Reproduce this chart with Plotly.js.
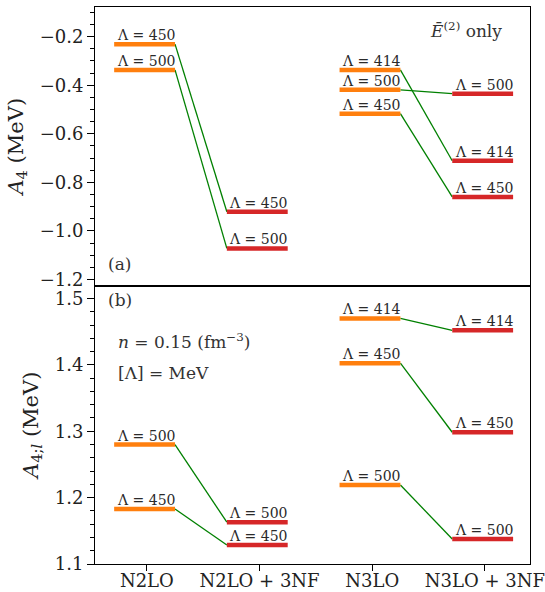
<!DOCTYPE html>
<html>
<head>
<meta charset="utf-8">
<script src="https://cdn.plot.ly/plotly-3.0.1.min.js"></script>
<style>html,body{margin:0;padding:0;background:#fff;}#chart{width:545px;height:592px;}</style>
</head>
<body>
<div id="chart"></div>
<script>
// ---- data ----
const categories = ['N2LO', 'N2LO + 3NF', 'N3LO', 'N3LO + 3NF'];
const cutoffsN2 = [450, 500];
const cutoffsN3 = [414, 500, 450];
// panel (a): A4 (MeV)
const A4_N2LO      = [-0.231, -0.337];
const A4_N2LO_3NF  = [-0.921, -1.072];
const A4_N3LO      = [-0.337, -0.419, -0.517];
const A4_N3LO_3NF  = [-0.711, -0.435, -0.860];
// panel (b): A4;l (MeV)
const A4l_N2LO     = [1.183, 1.280];
const A4l_N2LO_3NF = [1.1286, 1.163];
const A4l_N3LO     = [1.470, 1.219, 1.4025];
const A4l_N3LO_3NF = [1.452, 1.1377, 1.2985];

const L = 0.29, R = 0.25;
const ORANGE = '#ff7f0e', RED = '#d62728', GREEN = '#008000';
const FONT = '"DejaVu Serif", serif';

const traces = [];
const annotations = [];

function addPanel(xa, ya, groups) {
  groups.forEach(g => {
    const lx = [], ly = [];
    g.cutoffs.forEach((c, k) => {
      lx.push(g.ci + R, g.ci + 1 - L, null);
      ly.push(g.base[k], g.nf[k], null);
    });
    traces.push({type: 'scatter', mode: 'lines', x: lx, y: ly, xaxis: xa, yaxis: ya,
      line: {color: GREEN, width: 1.3}, hoverinfo: 'skip', showlegend: false});
    [[g.ci, g.base, ORANGE], [g.ci + 1, g.nf, RED]].forEach(([ci, vals, col]) => {
      const bx = [], by = [];
      vals.forEach((v, k) => {
        bx.push(ci - L, ci + R, null);
        by.push(v, v, null);
        annotations.push({xref: xa, yref: ya, x: ci - L + 0.005, y: v, xanchor: 'left', yanchor: 'bottom',
          yshift: -1, showarrow: false, text: 'Λ = ' + g.cutoffs[k],
          font: {family: FONT, size: 14, color: '#2a2a2a'}});
      });
      traces.push({type: 'scatter', mode: 'lines', x: bx, y: by, xaxis: xa, yaxis: ya,
        line: {color: col, width: 4.5}, hoverinfo: 'skip', showlegend: false});
    });
  });
}

addPanel('x', 'y', [
  {ci: 0, cutoffs: cutoffsN2, base: A4_N2LO, nf: A4_N2LO_3NF},
  {ci: 2, cutoffs: cutoffsN3, base: A4_N3LO, nf: A4_N3LO_3NF}
]);
addPanel('x2', 'y2', [
  {ci: 0, cutoffs: cutoffsN2, base: A4l_N2LO, nf: A4l_N2LO_3NF},
  {ci: 2, cutoffs: cutoffsN3, base: A4l_N3LO, nf: A4l_N3LO_3NF}
]);

const txt = (x, y, text, xanchor, size) => ({xref: 'paper', yref: 'paper', x, y, xanchor, yanchor: 'middle',
  showarrow: false, text, font: {family: FONT, size, color: '#333'}});
annotations.push(txt(0.026, 0.539, '(a)', 'left', 17));
annotations.push(txt(0.026, 0.474, '(b)', 'left', 17));
annotations.push(txt(0.048, 0.400, '<i>n</i> = 0.15 (fm<sup>−3</sup>)', 'left', 17));
annotations.push(txt(0.048, 0.343, '[Λ] = MeV', 'left', 17));
annotations.push(txt(0.94, 0.959, '<i>Ē</i><sup>(2)</sup> only', 'right', 17));

const yCommon = {showline: true, linecolor: '#000', linewidth: 1, mirror: true, ticks: 'outside',
  ticklen: 7, tickwidth: 1, tickcolor: '#000', showgrid: false, zeroline: false,
  tickfont: {family: FONT, size: 18, color: '#222'}};
const titleFont = {family: FONT, size: 21, color: '#222'};

const layout = {
  width: 545, height: 592,
  margin: {l: 95, r: 15, t: 7, b: 28},
  paper_bgcolor: '#fff', plot_bgcolor: '#fff',
  showlegend: false,
  xaxis: {domain: [0, 1], anchor: 'y', range: [-0.46, 3.4], showticklabels: false, ticks: '',
    showline: true, linecolor: '#000', mirror: true, showgrid: false, zeroline: false},
  xaxis2: {domain: [0, 1], anchor: 'y2', matches: 'x', range: [-0.46, 3.4], tickmode: 'array',
    tickvals: [0, 1, 2, 3], ticktext: categories, ticks: 'outside', ticklen: 6, tickcolor: '#000',
    ticklabelstandoff: -6,
    showline: true, linecolor: '#000', mirror: true, showgrid: false, zeroline: false,
    tickfont: {family: FONT, size: 18, color: '#222'}},
  yaxis: Object.assign({}, yCommon, {domain: [0.5, 1], anchor: 'x', range: [-1.2246, -0.078],
    tickmode: 'linear', tick0: -1.2, dtick: 0.2, tickformat: '.1f',
    minor: {dtick: 0.05, ticks: 'outside', ticklen: 4, tickcolor: '#000', showgrid: false},
    title: {text: '<i>A</i><sub>4</sub> (MeV)', font: titleFont, standoff: 10}}),
  yaxis2: Object.assign({}, yCommon, {domain: [0, 0.5], anchor: 'x2', range: [1.1, 1.5196],
    tickmode: 'linear', tick0: 1.1, dtick: 0.1, tickformat: '.1f',
    minor: {dtick: 0.02, ticks: 'outside', ticklen: 4, tickcolor: '#000', showgrid: false},
    title: {text: '<i>A</i><sub>4;<i>l</i></sub> (MeV)', font: titleFont, standoff: 10}}),
  annotations: annotations
};

Plotly.newPlot('chart', traces, layout, {displayModeBar: false, staticPlot: true});
</script>
</body>
</html>
